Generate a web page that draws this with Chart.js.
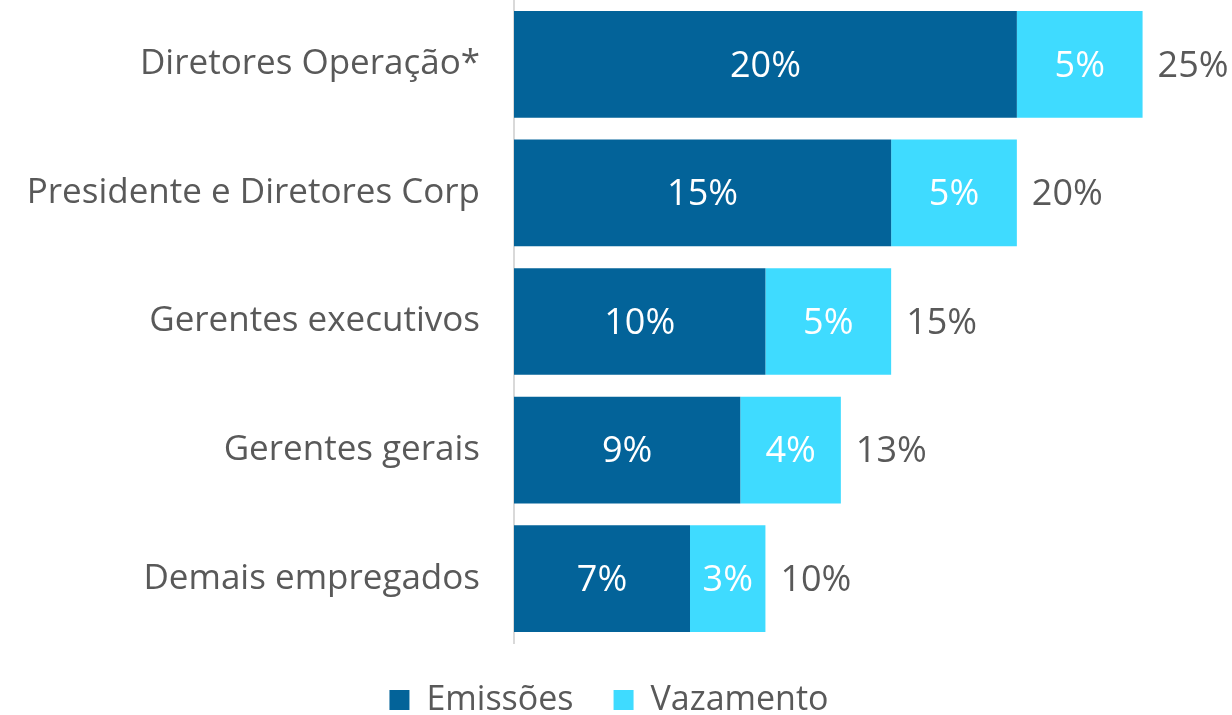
<!DOCTYPE html>
<html>
<head>
<meta charset="utf-8">
<script src="https://cdn.jsdelivr.net/npm/chart.js@4.4.1/dist/chart.umd.min.js"></script>
<style>
  html, body { margin: 0; padding: 0; background: #fff; }
  #wrap { width: 1232px; height: 715px; }
</style>
</head>
<body>
<div id="wrap"><canvas id="chart" width="1232" height="715"></canvas></div>
<script>
const categories = ['Diretores Operação*', 'Presidente e Diretores Corp', 'Gerentes executivos', 'Gerentes gerais', 'Demais empregados'];
const emissoes = [20, 15, 10, 9, 7];
const vazamento = [5, 5, 5, 4, 3];
const seriesNames = ['Emissões', 'Vazamento'];

const FONT = '"Open Sans", sans-serif';
const GREY = '#595959';

// labels inside the bars plus the total at the end of each bar
const barLabels = {
  id: 'barLabels',
  afterDatasetsDraw(chart) {
    const ctx = chart.ctx;
    ctx.save();
    ctx.textBaseline = 'middle';
    ctx.font = '36px ' + FONT;
    chart.data.datasets.forEach((ds, i) => {
      const meta = chart.getDatasetMeta(i);
      meta.data.forEach((bar, j) => {
        ctx.fillStyle = '#ffffff';
        ctx.textAlign = 'center';
        ctx.fillText(ds.data[j] + '%', (bar.x + bar.base) / 2, bar.y + 2);
      });
    });
    const last = chart.getDatasetMeta(chart.data.datasets.length - 1);
    last.data.forEach((bar, j) => {
      const total = emissoes[j] + vazamento[j];
      ctx.fillStyle = GREY;
      ctx.textAlign = 'left';
      ctx.fillText(total + '%', bar.x + 15, bar.y + 2);
    });
    ctx.restore();
  }
};

new Chart(document.getElementById('chart'), {
  type: 'bar',
  data: {
    labels: categories,
    datasets: [
      { label: seriesNames[0], data: emissoes, backgroundColor: '#036399' },
      { label: seriesNames[1], data: vazamento, backgroundColor: '#3fdbff' }
    ]
  },
  options: {
    indexAxis: 'y',
    responsive: false,
    animation: false,
    events: [],
    layout: { padding: { top: 0, right: 14, bottom: -12, left: 0 } },
    datasets: { bar: { categoryPercentage: 1, barPercentage: 0.83 } },
    scales: {
      x: { stacked: true, min: 0, max: 28, display: false },
      y: {
        stacked: true,
        grid: { display: false },
        border: { color: '#d9d9d9', width: 2 },
        ticks: { color: GREY, font: { family: FONT, size: 35 }, padding: 26 },
        afterFit(scale) {
          scale.width = 514;
          scale.paddingTop = 0;
          scale.paddingBottom = 0;
        }
      }
    },
    plugins: {
      legend: {
        position: 'bottom',
        labels: {
          color: GREY,
          font: { family: FONT, size: 34 },
          boxWidth: 20,
          boxHeight: 20,
          padding: 40
        }
      },
      tooltip: { enabled: false }
    }
  },
  plugins: [barLabels]
});
</script>
</body>
</html>
